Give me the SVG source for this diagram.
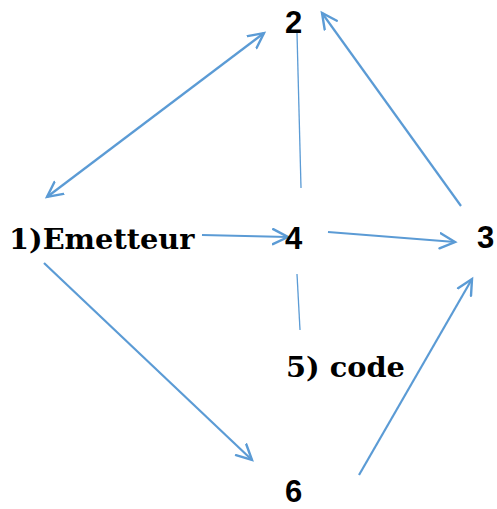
<svg xmlns="http://www.w3.org/2000/svg" width="497" height="509" viewBox="0 0 497 509">
<style>
.lbl{font-family:"DejaVu Serif","Liberation Serif",serif;font-weight:bold;font-size:28.8px;fill:#000}
.num{font-family:"Liberation Sans",Arial,sans-serif;font-weight:bold;font-size:31px;fill:#000}
.arr{stroke:#5B9BD5;stroke-width:2.2;fill:none}
.thin{stroke:#5B9BD5;stroke-width:1.3;fill:none}
</style>
<defs>
<marker id="ah" markerUnits="userSpaceOnUse" markerWidth="20" markerHeight="20" viewBox="-16 -10 20 20" refX="0" refY="0" orient="auto-start-reverse">
<path d="M-15,-7.5 L0,0 L-15,7.5" stroke="#5B9BD5" stroke-width="2.4" fill="none" stroke-linecap="round"/>
</marker>
</defs>
<g id="connectors">
<line class="arr" x1="47" y1="197" x2="264" y2="33" marker-start="url(#ah)" marker-end="url(#ah)"/>
<line class="arr" x1="202" y1="235" x2="288" y2="237" marker-end="url(#ah)"/>
<line class="arr" x1="328" y1="232" x2="455" y2="242" marker-end="url(#ah)"/>
<line class="arr" x1="461" y1="206" x2="322" y2="13" marker-end="url(#ah)"/>
<line class="arr" x1="44" y1="263" x2="252" y2="460" marker-end="url(#ah)"/>
<line class="arr" x1="359" y1="475" x2="472" y2="279" marker-end="url(#ah)"/>
<line class="thin" x1="297" y1="33" x2="301" y2="188"/>
<line class="thin" x1="297" y1="274" x2="300" y2="330"/>
</g>
<g id="n1"><text class="lbl" x="9" y="249">1)Emetteur</text></g>
<g id="n2"><text class="num" x="285" y="33">2</text></g>
<g id="n3"><text class="num" x="477" y="248">3</text></g>
<g id="n4"><text class="num" x="285" y="249">4</text></g>
<g id="n5"><text class="lbl" x="286" y="377">5) code</text></g>
<g id="n6"><text class="num" x="285" y="502">6</text></g>
</svg>
